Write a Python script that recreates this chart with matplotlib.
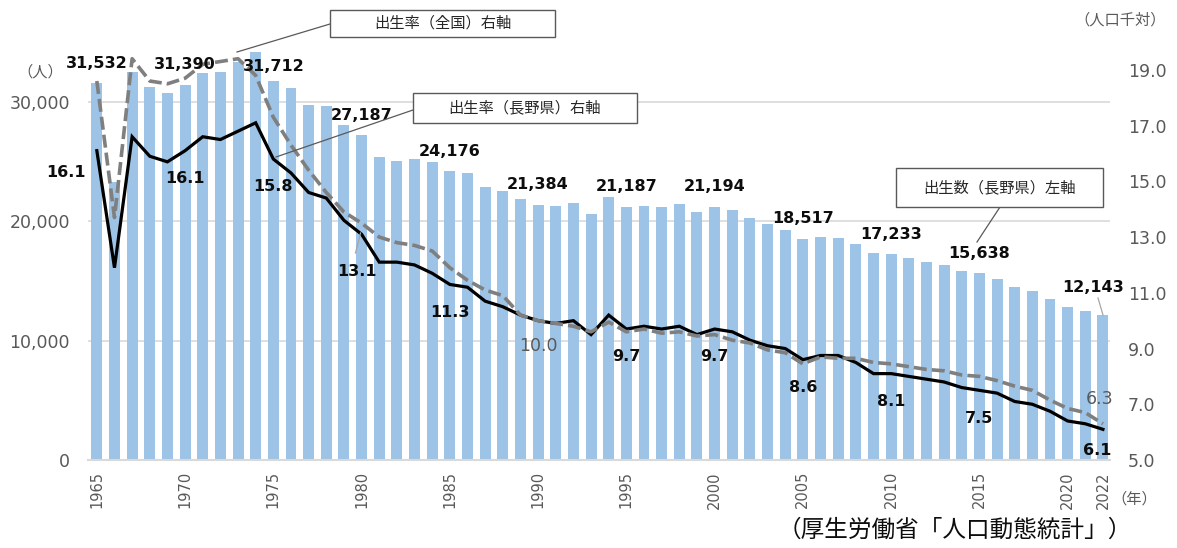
import matplotlib
matplotlib.use("Agg")
import matplotlib.pyplot as plt
from matplotlib.patches import Rectangle
from matplotlib.lines import Line2D

# ---------------- data ----------------
years = list(range(1965, 2023))
births_nagano = [31532, 23250, 32520, 31210, 30760, 31390, 32380, 32500, 33360, 34200,
                 31712, 31130, 29730, 29650, 28080, 27187, 25380, 25040, 25210, 24990,
                 24176, 24040, 22860, 22530, 21860, 21384, 21300, 21550, 20600, 22000,
                 21187, 21300, 21160, 21470, 20770, 21194, 20910, 20290, 19740, 19260,
                 18517, 18700, 18560, 18090, 17310, 17233, 16920, 16580, 16300, 15830,
                 15638, 15130, 14520, 14180, 13480, 12840, 12480, 12143]
rate_nagano = [16.1, 11.9, 16.6, 15.9, 15.7, 16.1, 16.6, 16.5, 16.8, 17.1,
               15.8, 15.3, 14.6, 14.4, 13.6, 13.1, 12.1, 12.1, 12.0, 11.7,
               11.3, 11.2, 10.7, 10.5, 10.2, 10.0, 9.9, 10.0, 9.5, 10.2,
               9.7, 9.8, 9.7, 9.8, 9.5, 9.7, 9.6, 9.3, 9.1, 9.0,
               8.6, 8.75, 8.75, 8.5, 8.1, 8.1, 8.0, 7.9, 7.8, 7.6,
               7.5, 7.4, 7.1, 7.0, 6.75, 6.4, 6.3, 6.1]
rate_japan = [18.6, 13.7, 19.4, 18.6, 18.5, 18.7, 19.2, 19.3, 19.4, 18.8,
              17.3, 16.3, 15.4, 14.6, 13.9, 13.5, 13.0, 12.8, 12.7, 12.5,
              11.9, 11.45, 11.1, 10.9, 10.2, 10.0, 9.9, 9.8, 9.6, 9.95,
              9.6, 9.7, 9.55, 9.6, 9.45, 9.5, 9.3, 9.2, 8.95, 8.85,
              8.45, 8.7, 8.65, 8.65, 8.5, 8.45, 8.35, 8.25, 8.2, 8.05,
              8.0, 7.85, 7.65, 7.5, 7.15, 6.85, 6.7, 6.3]
tick_years = [1965, 1970, 1975, 1980, 1985, 1990, 1995, 2000, 2005, 2010, 2015, 2020, 2022]
bar_label_years = [1965, 1970, 1975, 1980, 1985, 1990, 1995, 2000, 2005, 2010, 2015, 2022]
nagano_label_years = [1965, 1970, 1975, 1980, 1985, 1995, 2000, 2005, 2010, 2015, 2022]
japan_label_years = [1990, 2022]
left_ticks = [0, 10000, 20000, 30000]
right_ticks = [5, 7, 9, 11, 13, 15, 17, 19]

JP = ["Noto Sans CJK JP", "DejaVu Sans"]
W, H = 1177, 548


def fp(x, y):
    """figure pixel (from top-left) -> figure fraction"""
    return (x / W, 1 - y / H)


fig = plt.figure(figsize=(W / 100, H / 100), dpi=100)
ax = fig.add_axes([88 / W, (H - 460) / H, (1110 - 88) / W, (460 - 42) / H])
ax2 = ax.twinx()

# bars
ax.bar(years, births_nagano, width=0.62, color="#9DC3E6", zorder=2)
ax.set_ylim(0, 35000)
ax.set_xlim(1964.5, 2022.4)
ax.set_yticks(left_ticks)
ax.set_yticklabels([f"{v:,}" for v in left_ticks])
ax.yaxis.grid(True, color="#D9D9D9", lw=1.2, zorder=0)
ax.set_axisbelow(True)
for s in ["top", "right", "left"]:
    ax.spines[s].set_visible(False)
    ax2.spines[s].set_visible(False)
ax.spines["bottom"].set_color("#D9D9D9")
ax.spines["bottom"].set_linewidth(1.5)
ax2.spines["bottom"].set_visible(False)
ax.tick_params(axis="y", length=0, pad=13, labelsize=12.5, labelcolor="#595959")
ax.set_xticks(tick_years)
ax.set_xticklabels([str(y) for y in tick_years], rotation=90, va="top")
ax.tick_params(axis="x", length=0, pad=8, labelsize=10.5, labelcolor="#595959")

# lines
ax2.plot(years, rate_nagano, color="#000000", lw=2.3, zorder=3, solid_joinstyle="miter")
ln, = ax2.plot(years, rate_japan, color="#7F7F7F", lw=2.6, zorder=4,
               dash_capstyle="butt")
ln.set_dashes([3.6, 1.4])
ax2.set_ylim(5, 20)
ax2.set_yticks(right_ticks)
ax2.set_yticklabels([f"{v:.1f}" for v in right_ticks])
ax2.tick_params(axis="y", length=0, pad=13, labelsize=12.5, labelcolor="#595959")

# bar labels
bar_off = {1975: (0, 10.5), 2022: (-7, 20)}
for y in bar_label_years:
    v = births_nagano[years.index(y)]
    dx, dy = bar_off.get(y, (0, 14.5))
    ax2.annotate(f"{v:,}", xy=(y, v), xycoords=ax.transData, xytext=(dx, dy),
                 textcoords="offset points", ha="center", va="center",
                 fontsize=11.5, fontweight="bold", color="#0D0D0D", zorder=6)

# Nagano rate labels
nag_off = {1965: (-22, -16), 1980: (-3.5, -26.5), 2022: (-4, -15)}
for y in nagano_label_years:
    v = rate_nagano[years.index(y)]
    dx, dy = nag_off.get(y, (0, -20))
    ax2.annotate(f"{v:.1f}", xy=(y, v), xytext=(dx, dy),
                 textcoords="offset points", ha="center", va="center",
                 fontsize=11.5, fontweight="bold", color="#0D0D0D", zorder=6)

# Japan rate labels
jp_off = {1990: (0, -18), 2022: (-2.5, 18)}
for y in japan_label_years:
    v = rate_japan[years.index(y)]
    dx, dy = jp_off[y]
    ax2.annotate(f"{v:.1f}", xy=(y, v), xytext=(dx, dy),
                 textcoords="offset points", ha="center", va="center",
                 fontsize=12.5, color="#595959", zorder=6)

# small leader lines
for (x0, y0, x1, y1) in [(360.5, 233, 355.5, 253), (1103, 315, 1098, 298)]:
    fig.add_artist(Line2D([x0 / W, x1 / W], [1 - y0 / H, 1 - y1 / H],
                          color="#A6A6A6", lw=0.9))

# callout boxes
callouts = [
    ("出生率（全国）右軸", (330, 10, 555, 37), (330, 24, 237, 52)),
    ("出生率（長野県）右軸", (413, 93, 637, 123), (413, 110, 276, 157)),
    ("出生数（長野県）左軸", (896, 168, 1103, 207), (1000, 207, 977, 242)),
]
for text, (x0, y0, x1, y1), (lx0, ly0, lx1, ly1) in callouts:
    fig.add_artist(Line2D([lx0 / W, lx1 / W], [1 - ly0 / H, 1 - ly1 / H],
                          color="#595959", lw=0.9, zorder=7))
    fig.add_artist(Rectangle(fp(x0, y1), (x1 - x0) / W, (y1 - y0) / H,
                             transform=fig.transFigure, facecolor="white",
                             edgecolor="#595959", lw=1.0, zorder=7))
    cx, cy = fp((x0 + x1) / 2, (y0 + y1) / 2)
    fig.text(cx, cy, text, ha="center", va="center", fontsize=11,
             family=JP, color="#262626", zorder=8)

# axis unit labels and source
fig.text(*fp(40, 72), "（人）", ha="center", va="center", fontsize=11,
         family=JP, color="#595959")
fig.text(*fp(1120, 20), "（人口千対）", ha="center", va="center", fontsize=11,
         family=JP, color="#595959")
fig.text(*fp(1134, 499), "（年）", ha="center", va="center", fontsize=11,
         family=JP, color="#595959")
fig.text(*fp(955, 530), "（厚生労働省「人口動態統計」）", ha="center", va="center",
         fontsize=17, family=JP, color="#0D0D0D")

fig.savefig("out.png", dpi=100)
